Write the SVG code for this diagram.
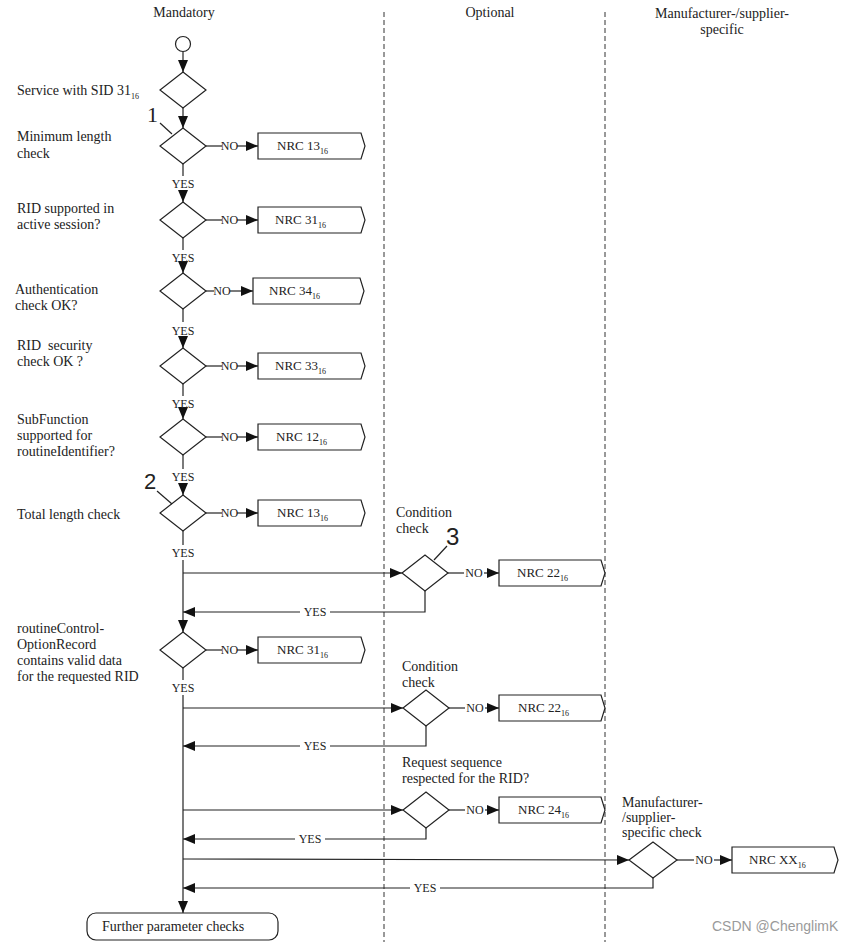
<svg xmlns="http://www.w3.org/2000/svg" width="853" height="944" viewBox="0 0 853 944">
<style>
text{font-family:"Liberation Serif","Times New Roman",serif;fill:#222}
.lb{font-size:14px}
.hd{font-size:14px;text-anchor:middle}
.yn{font-size:12px;text-anchor:middle}
.nrc{font-size:13px}
.sub{font-size:8px}
.num{font-size:22px}
.ln{fill:none;stroke:#222;stroke-width:1.2}
.ar{fill:none;stroke:#222;stroke-width:1.2;marker-end:url(#ah)}
.sh{fill:#fff;stroke:#222;stroke-width:1.2}
.dash{stroke:#333;stroke-width:1;stroke-dasharray:5 3}
</style>
<defs>
<marker id="ah" markerUnits="userSpaceOnUse" markerWidth="12" markerHeight="10" refX="12" refY="5" orient="auto">
<path d="M0,0 L12,5 L0,10 Z" fill="#111"/>
</marker>
</defs>
<rect width="853" height="944" fill="#fff"/>
<g id="lanes">
<line class="dash" x1="384" y1="12" x2="384" y2="942"/>
<line class="dash" x1="605" y1="12" x2="605" y2="942"/>
<text class="hd" x="184" y="17">Mandatory</text>
<text class="hd" x="490" y="17">Optional</text>
<text class="hd" x="722" y="18">Manufacturer-/supplier-</text>
<text class="hd" x="722" y="34">specific</text>
</g>
<g id="connectors">
<line class="ar" x1="183" y1="52" x2="183" y2="72"/>
<line class="ar" x1="183" y1="108" x2="183" y2="128"/>
<line class="ln" x1="183" y1="164" x2="183" y2="176"/>
<line class="ar" x1="183" y1="190" x2="183" y2="202"/>
<line class="ln" x1="183" y1="238" x2="183" y2="250"/>
<line class="ar" x1="183" y1="263" x2="183" y2="273"/>
<line class="ln" x1="183" y1="309" x2="183" y2="322"/>
<line class="ar" x1="183" y1="336" x2="183" y2="348"/>
<line class="ln" x1="183" y1="384" x2="183" y2="396"/>
<line class="ar" x1="183" y1="409" x2="183" y2="419"/>
<line class="ln" x1="183" y1="455" x2="183" y2="469"/>
<line class="ar" x1="183" y1="483" x2="183" y2="495"/>
<line class="ln" x1="183" y1="531" x2="183" y2="545"/>
<line class="ar" x1="183" y1="560" x2="183" y2="632"/>
<line class="ln" x1="183" y1="668" x2="183" y2="680"/>
<line class="ar" x1="183" y1="695" x2="183" y2="913"/>
<!-- NO branches -->
<line class="ln" x1="206" y1="146" x2="222" y2="146"/><line class="ar" x1="237" y1="146" x2="258" y2="146"/>
<line class="ln" x1="206" y1="220" x2="222" y2="220"/><line class="ar" x1="237" y1="220" x2="258" y2="220"/>
<line class="ln" x1="206" y1="291" x2="214" y2="291"/><line class="ar" x1="230" y1="291" x2="253" y2="291"/>
<line class="ln" x1="206" y1="366" x2="222" y2="366"/><line class="ar" x1="237" y1="366" x2="258" y2="366"/>
<line class="ln" x1="206" y1="437" x2="222" y2="437"/><line class="ar" x1="237" y1="437" x2="258" y2="437"/>
<line class="ln" x1="206" y1="513" x2="222" y2="513"/><line class="ar" x1="237" y1="513" x2="258" y2="513"/>
<line class="ln" x1="206" y1="650" x2="222" y2="650"/><line class="ar" x1="237" y1="650" x2="258" y2="650"/>
<line class="ln" x1="448" y1="573" x2="464" y2="573"/><line class="ar" x1="484" y1="573" x2="499" y2="573"/>
<line class="ln" x1="449" y1="708" x2="465" y2="708"/><line class="ar" x1="485" y1="708" x2="499" y2="708"/>
<line class="ln" x1="449" y1="810" x2="465" y2="810"/><line class="ar" x1="485" y1="810" x2="499" y2="810"/>
<line class="ln" x1="677" y1="860" x2="694" y2="860"/><line class="ar" x1="714" y1="860" x2="732" y2="860"/>
<!-- side branches -->
<line class="ar" x1="183" y1="573" x2="402" y2="573"/>
<path class="ln" d="M425,591 V612 H330"/><line class="ar" x1="300" y1="612" x2="183" y2="612"/>
<line class="ar" x1="183" y1="708" x2="403" y2="708"/>
<path class="ln" d="M426,726 V746 H330"/><line class="ar" x1="300" y1="746" x2="183" y2="746"/>
<line class="ar" x1="183" y1="810" x2="403" y2="810"/>
<path class="ln" d="M426,828 V839 H325"/><line class="ar" x1="295" y1="839" x2="183" y2="839"/>
<line class="ar" x1="183" y1="859" x2="629" y2="860"/>
<path class="ln" d="M653,878 V888 H440"/><line class="ar" x1="410" y1="888" x2="183" y2="888"/>
<!-- labels -->
<text class="yn" x="183" y="188">YES</text>
<text class="yn" x="183" y="262">YES</text>
<text class="yn" x="183" y="335">YES</text>
<text class="yn" x="183" y="408">YES</text>
<text class="yn" x="183" y="481">YES</text>
<text class="yn" x="183" y="557">YES</text>
<text class="yn" x="183" y="692">YES</text>
<text class="yn" x="315" y="616">YES</text>
<text class="yn" x="315" y="750">YES</text>
<text class="yn" x="310" y="843">YES</text>
<text class="yn" x="425" y="892">YES</text>
<text class="yn" x="229.5" y="150">NO</text>
<text class="yn" x="229.5" y="224">NO</text>
<text class="yn" x="222" y="295">NO</text>
<text class="yn" x="229.5" y="370">NO</text>
<text class="yn" x="229.5" y="441">NO</text>
<text class="yn" x="229.5" y="517">NO</text>
<text class="yn" x="229.5" y="654">NO</text>
<text class="yn" x="474" y="577">NO</text>
<text class="yn" x="475" y="712">NO</text>
<text class="yn" x="475" y="814">NO</text>
<text class="yn" x="704" y="864">NO</text>
</g>
<g id="start"><circle class="sh" cx="183" cy="44" r="7.5"/></g>
<g id="d-service">
<polygon class="sh" points="183,72 206,90 183,108 160,90"/>
<text class="lb" x="17" y="95">Service with SID 31<tspan class="sub" dy="4">16</tspan></text>
</g>
<g id="d-minlen">
<polygon class="sh" points="183,128 206,146 183,164 160,146"/>
<text class="lb" x="17" y="141">Minimum length</text>
<text class="lb" x="17" y="158">check</text>
<text class="num" x="147" y="122">1</text>
<line class="ln" x1="160" y1="123" x2="172" y2="134"/>
</g>
<g id="nrc13a"><path class="sh" d="M258,133 H361 L365,146 L361,159 H258 Z"/><text class="nrc" x="277" y="150">NRC 13<tspan class="sub" dy="4">16</tspan></text></g>
<g id="d-ridsupp">
<polygon class="sh" points="183,202 206,220 183,238 160,220"/>
<text class="lb" x="17" y="213">RID supported in</text>
<text class="lb" x="17" y="229">active session?</text>
</g>
<g id="nrc31a"><path class="sh" d="M258,207 H361 L365,220 L361,233 H258 Z"/><text class="nrc" x="275" y="224">NRC 31<tspan class="sub" dy="4">16</tspan></text></g>
<g id="d-auth">
<polygon class="sh" points="183,273 206,291 183,309 160,291"/>
<text class="lb" x="15" y="294">Authentication</text>
<text class="lb" x="15" y="310">check OK?</text>
</g>
<g id="nrc34"><path class="sh" d="M253,278 H360 L364,291 L360,304 H253 Z"/><text class="nrc" x="269" y="295">NRC 34<tspan class="sub" dy="4">16</tspan></text></g>
<g id="d-ridsec">
<polygon class="sh" points="183,348 206,366 183,384 160,366"/>
<text class="lb" x="17" y="350" style="white-space:pre">RID  security</text>
<text class="lb" x="17" y="366">check OK ?</text>
</g>
<g id="nrc33"><path class="sh" d="M258,353 H361 L365,366 L361,379 H258 Z"/><text class="nrc" x="275" y="370">NRC 33<tspan class="sub" dy="4">16</tspan></text></g>
<g id="d-subfunc">
<polygon class="sh" points="183,419 206,437 183,455 160,437"/>
<text class="lb" x="17" y="424">SubFunction</text>
<text class="lb" x="17" y="440">supported for</text>
<text class="lb" x="17" y="456">routineIdentifier?</text>
</g>
<g id="nrc12"><path class="sh" d="M258,424 H361 L365,437 L361,450 H258 Z"/><text class="nrc" x="276" y="441">NRC 12<tspan class="sub" dy="4">16</tspan></text></g>
<g id="d-total">
<polygon class="sh" points="183,495 206,513 183,531 160,513"/>
<text class="lb" x="17" y="519">Total length check</text>
<text class="num" x="144" y="489" style="font-family:'Liberation Sans',Arial,sans-serif">2</text>
<line class="ln" x1="157" y1="491" x2="172" y2="504"/>
</g>
<g id="nrc13b"><path class="sh" d="M258,500 H361 L365,513 L361,526 H258 Z"/><text class="nrc" x="277" y="517">NRC 13<tspan class="sub" dy="4">16</tspan></text></g>
<g id="d-cond1">
<polygon class="sh" points="402,573 425,555 448,573 425,591"/>
<text class="lb" x="396" y="517">Condition</text>
<text class="lb" x="396" y="533">check</text>
<text class="num" x="446" y="545" style="font-family:'Liberation Sans',Arial,sans-serif;font-size:24px">3</text>
<line class="ln" x1="434" y1="560" x2="447" y2="546"/>
</g>
<g id="nrc22a"><path class="sh" d="M499,560 H601 L605,573 L601,586 H499 Z"/><text class="nrc" x="517" y="577">NRC 22<tspan class="sub" dy="4">16</tspan></text></g>
<g id="d-option">
<polygon class="sh" points="183,632 206,650 183,668 160,650"/>
<text class="lb" x="17" y="633">routineControl-</text>
<text class="lb" x="17" y="649">OptionRecord</text>
<text class="lb" x="17" y="665">contains valid data</text>
<text class="lb" x="17" y="681">for the requested RID</text>
</g>
<g id="nrc31b"><path class="sh" d="M258,637 H361 L365,650 L361,663 H258 Z"/><text class="nrc" x="277" y="654">NRC 31<tspan class="sub" dy="4">16</tspan></text></g>
<g id="d-cond2">
<polygon class="sh" points="403,708 426,690 449,708 426,726"/>
<text class="lb" x="402" y="671">Condition</text>
<text class="lb" x="402" y="687">check</text>
</g>
<g id="nrc22b"><path class="sh" d="M499,695 H601 L605,708 L601,721 H499 Z"/><text class="nrc" x="518" y="712">NRC 22<tspan class="sub" dy="4">16</tspan></text></g>
<g id="d-seq">
<polygon class="sh" points="403,810 426,792 449,810 426,828"/>
<text class="lb" x="402" y="767">Request sequence</text>
<text class="lb" x="402" y="783">respected for the RID?</text>
</g>
<g id="nrc24"><path class="sh" d="M499,797 H601 L605,810 L601,823 H499 Z"/><text class="nrc" x="518" y="814">NRC 24<tspan class="sub" dy="4">16</tspan></text></g>
<g id="d-manu">
<polygon class="sh" points="629,860 653,842 677,860 653,878"/>
<text class="lb" x="622" y="807">Manufacturer-</text>
<text class="lb" x="622" y="822">/supplier-</text>
<text class="lb" x="622" y="837">specific check</text>
</g>
<g id="nrcxx"><path class="sh" d="M732,847 H834 L838,860 L834,873 H732 Z"/><text class="nrc" x="749" y="864">NRC XX<tspan class="sub" dy="4">16</tspan></text></g>
<g id="further">
<rect class="sh" x="87" y="913" width="191" height="27" rx="9"/>
<text class="lb" x="102" y="931">Further parameter checks</text>
</g>
<text x="712" y="931" style="font-family:'Liberation Sans',Arial,sans-serif;font-size:14px;fill:#9a9a9a">CSDN @ChenglimK</text>
</svg>
